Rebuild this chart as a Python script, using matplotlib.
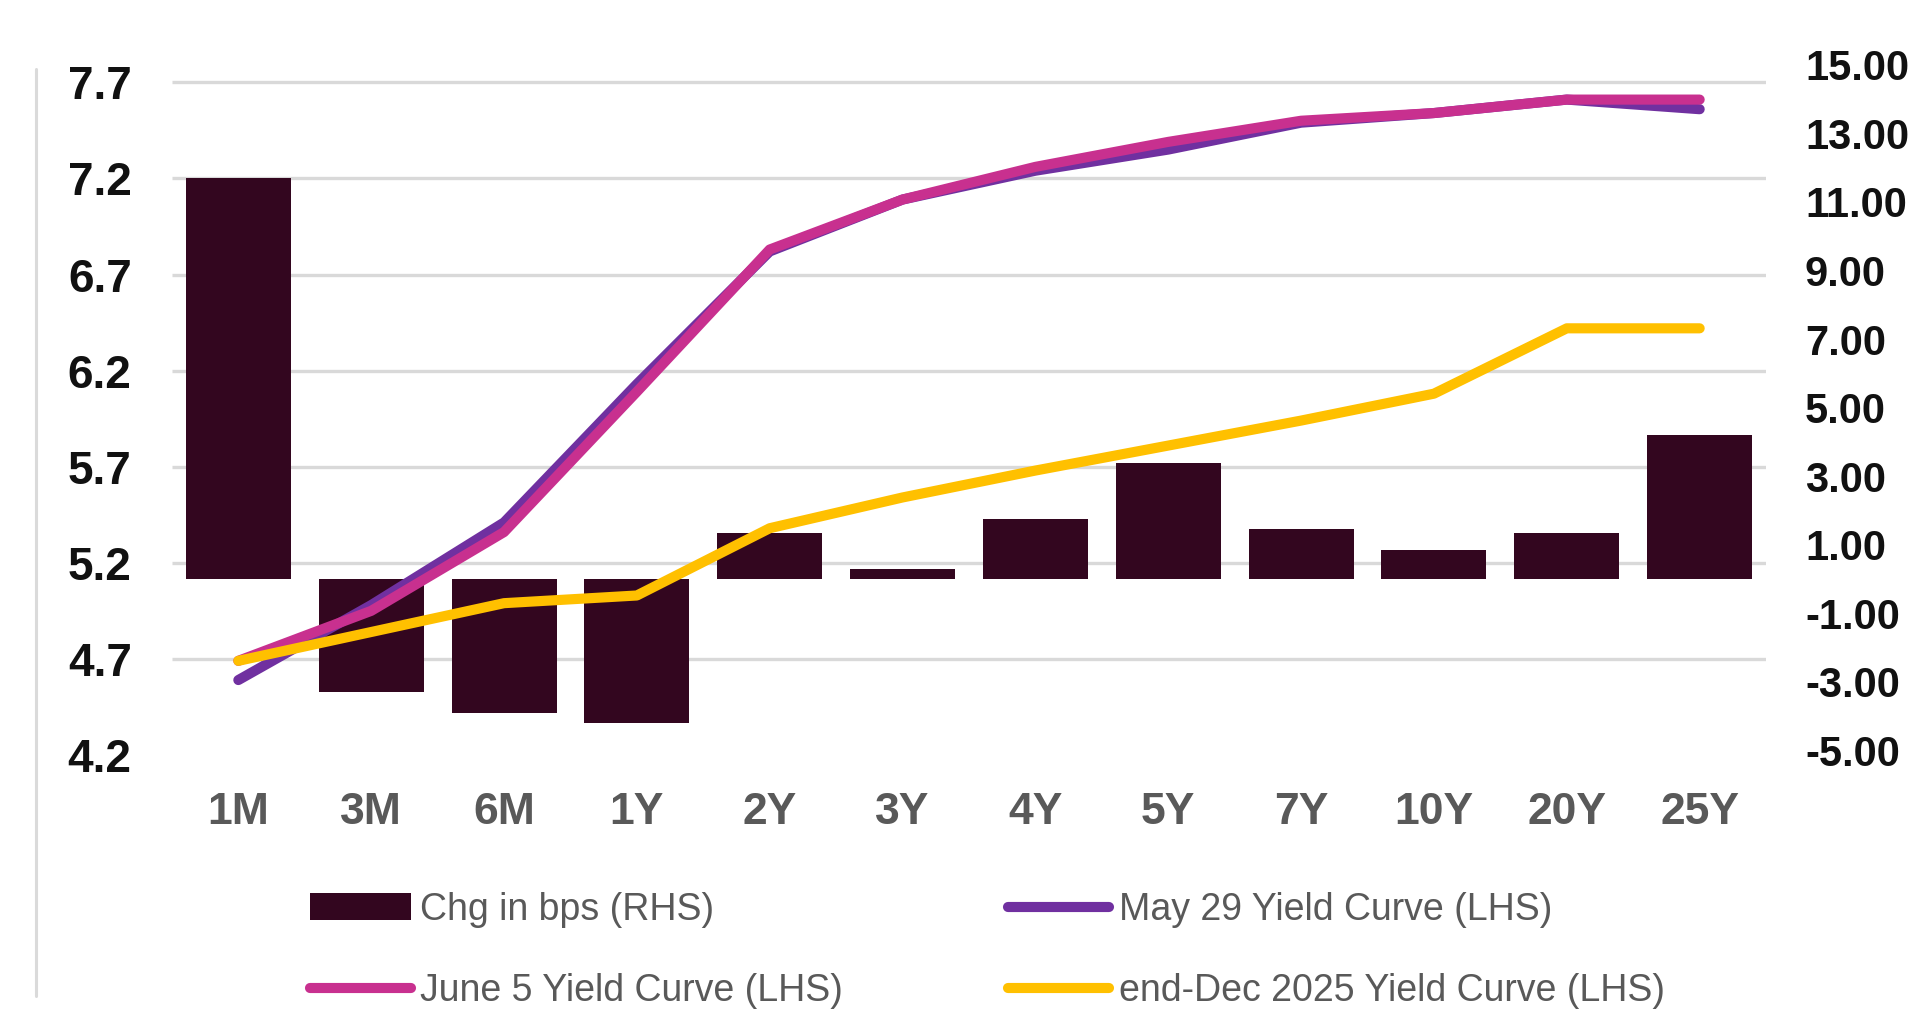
import matplotlib
matplotlib.use("Agg")
import matplotlib.pyplot as plt
import matplotlib.transforms as mtransforms
from matplotlib.patches import Patch
from matplotlib.lines import Line2D

tenors = ["1M", "3M", "6M", "1Y", "2Y", "3Y", "4Y", "5Y", "7Y", "10Y", "20Y", "25Y"]
chg_bps = [11.7, -3.3, -3.9, -4.2, 1.35, 0.3, 1.75, 3.4, 1.45, 0.85, 1.35, 4.2]
may29 = [4.59, 4.98, 5.41, 6.13, 6.82, 7.09, 7.24, 7.35, 7.49, 7.54, 7.61, 7.56]
june5 = [4.69, 4.95, 5.36, 6.09, 6.83, 7.09, 7.26, 7.39, 7.50, 7.54, 7.61, 7.61]
dec2025 = [4.69, 4.84, 4.99, 5.03, 5.38, 5.54, 5.68, 5.81, 5.94, 6.08, 6.42, 6.42]

left_ticks = [4.2, 4.7, 5.2, 5.7, 6.2, 6.7, 7.2, 7.7]
right_ticks = [-5, -3, -1, 1, 3, 5, 7, 9, 11, 13, 15]

bar_col = "#33061F"
may_col = "#7030A0"
june_col = "#C8308F"
dec_col = "#FFC000"
grid_col = "#D9D9D9"

fig = plt.figure(figsize=(19.23, 10.11), dpi=100)

# faint frame edge on the left
fig.add_artist(Line2D([0.0185, 0.0185], [0.015, 0.932], transform=fig.transFigure,
                      color="#DADADA", linewidth=2.2, solid_capstyle="round"))

# bars on the right hand scale (its labels sit a bit higher than the plot area)
ax2 = fig.add_axes([0.0894, 0.2576, 0.8290, 0.6818])
# yield curves on the left hand scale
ax = fig.add_axes([0.0894, 0.2532, 0.8290, 0.6654], sharex=ax2)
ax.patch.set_visible(False)

x = range(len(tenors))
ax2.bar(x, chg_bps, width=0.79, color=bar_col, zorder=2)
ax2.set_ylim(-4.9, 15.1)
ax2.set_yticks(right_ticks)
ax2.set_yticklabels([f"{v:.2f}" for v in right_ticks])
ax2.yaxis.tick_right()
ax2.set_xlim(-0.5, len(tenors) - 0.5)
ax2.patch.set_visible(False)

# gridlines follow the left scale but sit behind the bars
trans = mtransforms.blended_transform_factory(ax2.transAxes, ax.transData)
ax2.hlines(left_ticks, 0, 1, transform=trans, color=grid_col, linewidth=2.4, zorder=0)

lw = 7.3
for vals, col in [(may29, may_col), (june5, june_col), (dec2025, dec_col)]:
    ax.plot(x, vals, color=col, lw=lw, solid_capstyle="round", solid_joinstyle="round")
ax.set_ylim(4.2, 7.7)
ax.set_yticks(left_ticks)
ax.set_yticklabels([f"{v:.1f}" for v in left_ticks])

for a in (ax, ax2):
    for s in a.spines.values():
        s.set_visible(False)

ax2.set_xticks(list(x))
ax2.set_xticklabels(tenors)
ax2.tick_params(axis="x", length=0, pad=30)
for lab in ax2.get_xticklabels():
    lab.set_fontfamily(["Liberation Sans", "DejaVu Sans"])
    lab.set_fontweight("bold")
    lab.set_fontsize(32)
    lab.set_color("#595959")

ax2.tick_params(axis="y", length=0, pad=28)
for lab in ax2.get_yticklabels():
    lab.set_fontfamily(["Liberation Sans", "DejaVu Sans"])
    lab.set_fontweight("bold")
    lab.set_fontsize(30)
    lab.set_color("#111111")

ax.tick_params(axis="y", length=0, pad=29)
ax.tick_params(axis="x", length=0, labelbottom=False)
for lab in ax.get_yticklabels():
    lab.set_fontfamily(["Liberation Sans", "DejaVu Sans"])
    lab.set_fontweight("bold")
    lab.set_fontsize(33)
    lab.set_color("#111111")

handles = [
    Patch(facecolor=bar_col, label="Chg in bps (RHS)"),
    Line2D([0], [0], color=june_col, lw=lw, solid_capstyle="round", label="June 5 Yield Curve (LHS)"),
    Line2D([0], [0], color=may_col, lw=lw, solid_capstyle="round", label="May 29 Yield Curve (LHS)"),
    Line2D([0], [0], color=dec_col, lw=lw, solid_capstyle="round", label="end-Dec 2025 Yield Curve (LHS)"),
]
leg = fig.legend(handles=handles, ncol=2, loc="upper left", bbox_to_anchor=(0.161, 0.118),
                 frameon=False, borderpad=0, borderaxespad=0,
                 handlelength=2.7, handletextpad=0.25, columnspacing=4.4, labelspacing=1.2,
                 prop={"family": ["Liberation Sans", "DejaVu Sans"], "size": 27})
for t in leg.get_texts():
    t.set_color("#595959")

fig.savefig("out.png", dpi=100)
